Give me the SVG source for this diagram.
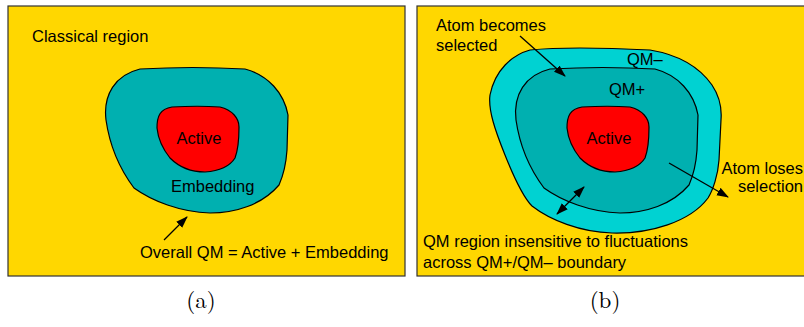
<svg xmlns="http://www.w3.org/2000/svg" width="804" height="327" viewBox="0 0 804 327">
  <style>
    .panel { fill: #FFD700; stroke: #333; stroke-width: 1.2; }
    .emb { fill: #00B0B0; stroke: #000; stroke-width: 1.2; }
    .qmminus { fill: #00D2D2; stroke: #000; stroke-width: 1.2; }
    .act { fill: #FF0000; stroke: #000; stroke-width: 1.2; }
    .lbl { font-family: "Liberation Sans", Arial, sans-serif; font-size: 16.5px; fill: #000; }
    .cap { font-family: "Latin Modern Roman", "Liberation Serif", "DejaVu Serif", serif; font-size: 23px; fill: #000; }
    .arr { stroke: #000; stroke-width: 1.3; fill: none; }
  </style>
  <defs>
    <marker id="ah" viewBox="0 0 12 10" refX="11" refY="5" markerWidth="12" markerHeight="10" markerUnits="userSpaceOnUse" orient="auto-start-reverse">
      <path d="M0,0.8 L12,5 L0,9.2 Z" fill="#000"/>
    </marker>
  </defs>

  <rect width="804" height="327" fill="#fff"/>

  <g id="panel-a">
    <rect class="panel" x="8" y="6" width="397" height="270"/>
    <text class="lbl" x="32" y="42">Classical region</text>
  </g>
  <g id="embedding-a">
    <path class="emb" d="M140,69 C175,67 210,67 245,69 C268,75 284,93 288,115 L287,150 C286,165 283,176 279,185 C262,205 235,213 210,213 C180,212 152,201 134,188 C122,172 110,148 106,120 C103,95 115,75 140,69 Z"/>
    <text class="lbl" x="171" y="192">Embedding</text>
  </g>
  <g id="active-a">
    <path class="act" d="M172,107 C190,106 205,106 220,107 C232,110 239,118 239,127 C239,140 238,150 235,158 C230,166 220,171 205,172 C190,172 178,166 170,158 C162,148 158,138 157,128 C157,116 160,109 172,107 Z"/>
    <text class="lbl" x="199" y="144" text-anchor="middle">Active</text>
  </g>
  <g id="note-a">
    <text class="lbl" x="140" y="258">Overall QM = Active + Embedding</text>
  </g>

  <g id="panel-b">
    <rect class="panel" x="417" y="6" width="400" height="270"/>
  </g>
  <g id="qmminus-b">
    <path class="qmminus" d="M530,50 C560,47 610,48 650,50 C680,55 700,68 712,85 C720,97 722,108 721,120 L719,160 C718,175 713,190 708,198 C690,222 650,234 612,233 C580,232 550,220 532,206 C524,198 515,180 505,155 C495,130 488,110 490,95 C495,70 512,55 530,50 Z"/>
    <text class="lbl" x="627" y="65">QM–</text>
  </g>
  <g id="qmplus-b">
    <path class="emb" d="M550,69 C585,67 620,67 655,69 C678,75 694,93 698,115 L697,150 C696,165 693,176 689,185 C672,205 645,213 620,213 C590,212 562,201 544,188 C532,172 520,148 516,120 C513,95 525,75 550,69 Z"/>
    <text class="lbl" x="609" y="95">QM+</text>
  </g>
  <g id="active-b">
    <path class="act" d="M582,107 C600,106 615,106 630,107 C642,110 649,118 649,127 C649,140 648,150 645,158 C640,166 630,171 615,172 C600,172 588,166 580,158 C572,148 568,138 567,128 C567,116 570,109 582,107 Z"/>
    <text class="lbl" x="609" y="144" text-anchor="middle">Active</text>
  </g>
  <g id="labels-b">
    <text class="lbl" x="436" y="31">Atom becomes</text>
    <text class="lbl" x="436" y="51">selected</text>
    <text class="lbl" x="803" y="174" text-anchor="end">Atom loses</text>
    <text class="lbl" x="803" y="192" text-anchor="end">selection</text>
    <text class="lbl" x="423" y="247">QM region insensitive to fluctuations</text>
    <text class="lbl" x="423" y="268">across QM+/QM– boundary</text>
  </g>

  <g id="connectors">
    <line class="arr" x1="164" y1="240" x2="187" y2="217" marker-end="url(#ah)"/>
    <line class="arr" x1="520" y1="36" x2="565" y2="76" marker-end="url(#ah)"/>
    <line class="arr" x1="669" y1="163" x2="728" y2="197" marker-end="url(#ah)"/>
    <line class="arr" x1="557" y1="214" x2="584" y2="187" marker-start="url(#ah)" marker-end="url(#ah)"/>
  </g>

  <g id="captions">
    <text class="cap" x="201" y="308" text-anchor="middle">(a)</text>
    <text class="cap" x="605" y="308" text-anchor="middle">(b)</text>
  </g>
</svg>
